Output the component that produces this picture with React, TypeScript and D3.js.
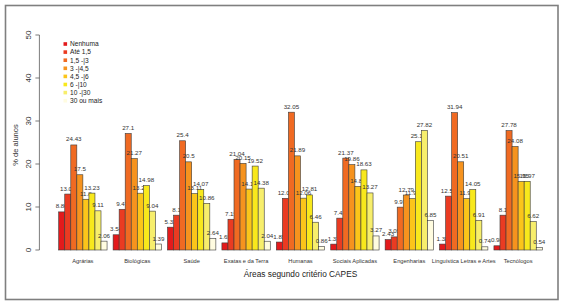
import React from "react";
import * as d3 from "d3";

const categories = [
  "Agrárias",
  "Biológicas",
  "Saúde",
  "Exatas e da Terra",
  "Humanas",
  "Sociais Aplicadas",
  "Engenharias",
  "Linguística Letras e Artes",
  "Tecnólogos",
];

const seriesNames = [
  "Nenhuma",
  "Até 1,5",
  "1,5 -|3",
  "3 -|4,5",
  "4,5 -|6",
  "6 -|10",
  "10 -|30",
  "30 ou mais",
];

const nenhuma = [8.86, 3.54, 5.31, 1.65, 1.85, 1.37, 2.43, 1.38, 0.98];
const ate15 = [13.01, 9.47, 8.1, 7.15, 12.02, 7.41, 3.05, 12.53, 8.1];
const de15a3 = [24.43, 27.1, 25.4, 21.04, 32.05, 21.37, 9.97, 31.94, 27.78];
const de3a45 = [17.5, 21.27, 20.5, 20.15, 21.89, 19.86, 12.79, 20.51, 24.08];
const de45a6 = [11.8, 13.21, 13.11, 14.17, 12.06, 14.81, 11.96, 11.96, 15.95];
const de6a10 = [13.23, 14.98, 14.07, 19.52, 12.81, 18.63, 25.18, 14.05, 15.97];
const de10a30 = [9.11, 9.04, 10.86, 14.38, 6.46, 13.27, 27.82, 6.91, 6.62];
const mais30 = [2.06, 1.39, 2.64, 2.04, 0.86, 3.27, 6.85, 0.74, 0.54];

const seriesValues = [nenhuma, ate15, de15a3, de3a45, de45a6, de6a10, de10a30, mais30];

const colors = [
  "#E31A1C",
  "#EA3B22",
  "#F06A22",
  "#F6931E",
  "#FBC51A",
  "#F8E81C",
  "#F7EE6C",
  "#FFFCE0",
];

const yTicks = [0, 10, 20, 30, 40, 50];

const FONT = "Liberation Sans, Arial, sans-serif";

export default function App() {
  const W = 567;
  const H = 306;
  const y = d3.scaleLinear().domain([0, 50]).range([250, 35]);
  const xGroup = d3
    .scaleBand<string>()
    .domain(categories)
    .range([52.65, 542.3])
    .paddingInner(0)
    .paddingOuter(0);
  const bw = xGroup.bandwidth();
  const xInner = d3
    .scaleBand<string>()
    .domain(seriesNames)
    .range([bw / 9, bw])
    .padding(0);
  const barW = xInner.bandwidth();
  const fmt = (v: number) => String(v);

  return (
    <svg
      width={W}
      height={H}
      style={{ position: "absolute", left: 0, top: 0, background: "#fff" }}
      fontFamily={FONT}
    >
      <rect x={0} y={0} width={W} height={H} fill="#fff" />
      <rect x={5.5} y={5.5} width={552.5} height={294} fill="none" stroke="#7f7f7f" strokeWidth={1.6} />

      {/* y axis */}
      <line x1={39.4} x2={39.4} y1={y(0)} y2={y(50)} stroke="#444" strokeWidth={0.7} />
      {yTicks.map((t) => (
        <g key={t}>
          <line x1={35.4} x2={39.4} y1={y(t)} y2={y(t)} stroke="#444" strokeWidth={0.7} />
          <text
            transform={`translate(31,${y(t)}) rotate(-90)`}
            textAnchor="middle"
            fontSize={8}
            fill="#333"
          >
            {t}
          </text>
        </g>
      ))}
      <text
        transform={`translate(18,145) rotate(-90)`}
        textAnchor="middle"
        fontSize={7.5}
        fill="#333"
      >
        % de alunos
      </text>

      {/* bars */}
      {categories.map((c, ci) => (
        <g key={c} transform={`translate(${xGroup(c)},0)`}>
          {seriesNames.map((s, si) => {
            const v = seriesValues[si][ci];
            const bx = xInner(s) as number;
            return (
              <g key={s}>
                <rect
                  x={bx}
                  y={y(v)}
                  width={barW}
                  height={y(0) - y(v)}
                  fill={colors[si]}
                  stroke="#3a3a3a"
                  strokeWidth={0.6}
                />
                <text
                  x={bx + barW / 2}
                  y={y(v) - 3.5}
                  textAnchor="middle"
                  fontSize={6.2}
                  fill="#333"
                >
                  {fmt(v)}
                </text>
              </g>
            );
          })}
          <text
            x={bw / 9 + (bw * 8) / 9 / 2}
            y={263}
            textAnchor="middle"
            fontSize={5.7}
            fill="#333"
          >
            {c}
          </text>
        </g>
      ))}

      <text x={300.5} y={277} textAnchor="middle" fontSize={8.3} fill="#222">
        Áreas segundo critério CAPES
      </text>

      {/* legend */}
      {seriesNames.map((s, i) => (
        <g key={s} transform={`translate(0,${44 + i * 8.1})`}>
          <rect x={63.5} y={-1.8} width={3.6} height={3.6} fill={colors[i]} />
          <text x={70} y={2.3} fontSize={6.6} fill="#222">
            {s}
          </text>
        </g>
      ))}
    </svg>
  );
}
